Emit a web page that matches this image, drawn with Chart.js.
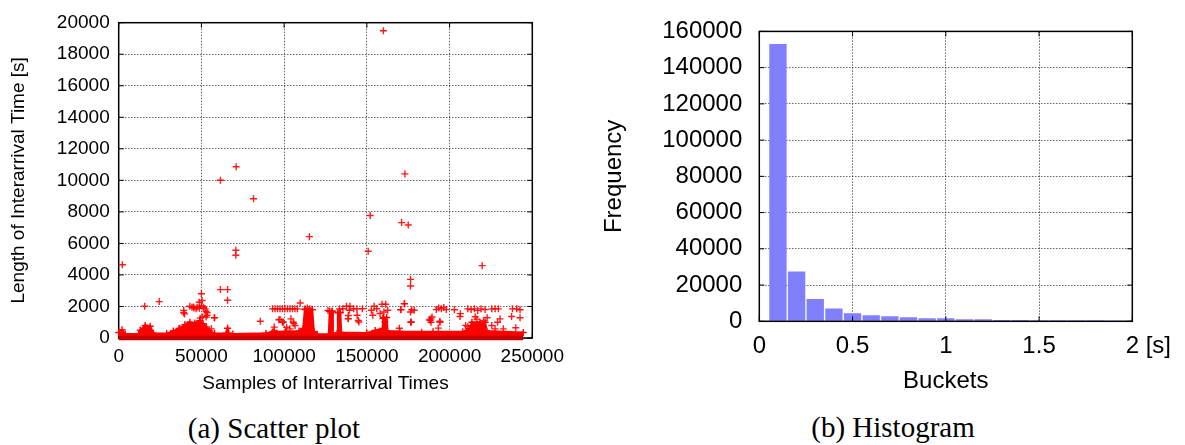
<!DOCTYPE html>
<html>
<head>
<meta charset="utf-8">
<script src="https://cdn.jsdelivr.net/npm/chart.js@4.4.0/dist/chart.umd.min.js"></script>
<style>
    body { margin: 0; background: #fff; width: 1185px; height: 445px; overflow: hidden; position: relative; }
    canvas { position: absolute; top: 0; }
    #scatter { left: 0; }
    #hist { left: 600px; }
    .caption { position: absolute; font-family: 'Liberation Serif', serif; font-size: 29px; line-height: 36px; text-align: center; width: 320px; color: #000; }
</style>
</head>
<body>
<canvas id="scatter" width="590" height="400"></canvas>
<canvas id="hist" width="585" height="400"></canvas>
<div class="caption" style="left:114px; top:410px;">(a) Scatter plot</div>
<div class="caption" style="left:733px; top:409px;">(b) Histogram</div>
<script>
// scatter: isolated samples above the dense band
const scatterX = [
    2200, 61500, 71000, 81500, 70800, 70800, 61500, 65800, 65800, 50000, 24500, 15700,
    115300, 160000, 152000, 150800, 173000, 171000, 175000, 176400, 176400, 219700, 172800, 109700,
    58000, 85600,
    39300, 39300, 39800, 44300, 45500, 46800, 47400, 48700, 48700, 50400, 50000, 51200,
    52300, 52800, 53400, 49300, 49300, 52800, 57800, 56000, 41900, 46300, 36300, 43000,
    45200, 50600, 53400,
    93000, 94500, 96000, 97500, 99000, 100500, 102000, 103500, 105000, 106500, 108000, 94000,
    94000, 97500, 99500, 101500, 103500, 105500, 106600, 104100, 96800, 98900, 105900, 112600,
    114000, 115500, 117000,
    126500, 129000, 132500, 133500, 135500, 137700, 139800, 142000, 144000, 147300, 138800, 138800,
    144800, 138700, 144100, 145200, 139400,
    152700, 154400, 156000, 159200, 161400, 160300, 162600, 159600, 160900, 153600, 158000, 170600,
    172600, 177100, 178600, 176500, 169600, 183100, 187700, 170400, 176900, 176400,
    188800, 188800, 192000, 193500, 195000, 196500, 198000, 194200, 193200, 202900, 206300, 211000,
    213000, 215000, 217000, 219000, 221500, 215500, 216500, 218300, 222700, 220500, 211000, 225500,
    227500, 225500, 227500, 229500, 230500, 229000, 232500, 238000, 240600, 242600, 237500, 242600,
    240000, 188300, 189400, 194100, 206500, 209700
];
const scatterY = [
    4650, 10010, 10860, 8830, 5570, 5250, 3070, 3070, 2390, 2810, 2310, 2010,
    6430, 19490, 7770, 5500, 10410, 7320, 7170, 3720, 3300, 4590, 2180, 2220,
    1290, 1060,
    1740, 1600, 1530, 1950, 1900, 1850, 1950, 1880, 2270, 2380, 2050, 1950,
    1850, 1700, 1600, 1260, 1000, 1330, 1280, 580, 840, 800, 580, 2010,
    1970, 1330, 1440,
    1850, 1850, 1850, 1850, 1850, 1850, 1850, 1850, 1850, 1850, 1850, 690,
    475, 1170, 1000, 685, 580, 1000, 790, 1215, 1160, 1015, 910, 1850,
    1900, 1850, 1800,
    1740, 1700, 1640, 1850, 1860, 2010, 2010, 1860, 1850, 1860, 1215, 1430,
    1110, 1230, 1440, 1015, 1760,
    1760, 2010, 1860, 2140, 2140, 1650, 1760, 1230, 1015, 1440, 1550, 1790,
    2170, 1790, 1760, 1000, 620, 370, 1150, 1800, 1015, 1650,
    1215, 1000, 1800, 1900, 1850, 1930, 1800, 1000, 628, 1790, 1360, 1850,
    1800, 1850, 1750, 1850, 1800, 1350, 1200, 1000, 1280, 1100, 720, 790,
    580, 1850, 1850, 1850, 1215, 1000, 580, 1850, 1850, 1790, 1360, 1280,
    650, 1120, 1330, 1060, 1545, 800
];
// upper edge of the dense band of short interarrival times
const bandX = [
    0, 2000, 4000, 12000, 13000, 16000, 19000, 21000, 29000, 33000, 37000, 40000,
    43000, 46000, 49000, 51000, 53000, 55000, 58000, 65000, 65800, 66500, 69000, 89000,
    93000, 101000, 109000, 111500, 112500, 117000, 118000, 120000, 127000, 127500, 129000, 129500,
    132000, 132500, 134000, 134500, 150000, 155000, 159500, 160000, 162000, 162500, 170000, 190000,
    208000, 212000, 213500, 221500, 222500, 244500
];
const bandY = [
    350, 520, 250, 250, 500, 800, 750, 300, 280, 450, 620, 850,
    1000, 950, 1100, 900, 700, 450, 280, 300, 620, 300, 250, 300,
    380, 420, 450, 600, 1800, 1800, 400, 230, 230, 1700, 1700, 300,
    300, 1600, 1600, 350, 320, 480, 600, 1300, 1300, 450, 420, 400,
    400, 600, 1000, 1000, 450, 350
];
const scatterXTicks = [0, 50000, 100000, 150000, 200000, 250000];
const scatterYTicks = [0, 2000, 4000, 6000, 8000, 10000, 12000, 14000, 16000, 18000, 20000];

// histogram
const bucketCenters = [0.1, 0.2, 0.3, 0.4, 0.5, 0.6, 0.7, 0.8, 0.9, 1.0, 1.1, 1.2, 1.3, 1.4, 1.5, 1.6, 1.7, 1.8, 1.9, 2.0];
const bucketCounts = [153000, 27500, 12300, 7000, 4400, 3300, 2800, 2300, 1700, 1700, 1200, 1200, 700, 650, 600, 600, 550, 550, 500, 500];
const histXTicks = [0, 0.5, 1, 1.5, 2];
const histYTicks = [0, 20000, 40000, 60000, 80000, 100000, 120000, 140000, 160000];

function framePlugin(onTop) {
    function draw(chart) {
        const ctx = chart.ctx;
        const a = chart.chartArea;
        ctx.save();
        ctx.strokeStyle = '#000';
        ctx.lineWidth = 1.5;
        ctx.strokeRect(a.left, a.top, a.right - a.left, a.bottom - a.top);
        ctx.lineWidth = 1;
        ctx.beginPath();
        chart.scales.x.ticks.forEach((t) => {
            let px = chart.scales.x.getPixelForValue(t.value);
            ctx.moveTo(px, a.bottom); ctx.lineTo(px, a.bottom - 5);
            ctx.moveTo(px, a.top); ctx.lineTo(px, a.top + 5);
        });
        chart.scales.y.ticks.forEach((t) => {
            let py = chart.scales.y.getPixelForValue(t.value);
            ctx.moveTo(a.left, py); ctx.lineTo(a.left + 5, py);
            ctx.moveTo(a.right, py); ctx.lineTo(a.right - 5, py);
        });
        ctx.stroke();
        ctx.restore();
    }
    return onTop ? {id: 'frame', afterDatasetsDraw: draw} : {id: 'frame', beforeDatasetsDraw: draw};
}

function axis(ticks, size, fit, fontSize, pad, title, titlePad) {
    return {
        type: 'linear',
        min: ticks[0],
        max: ticks[ticks.length - 1],
        offset: false,
        afterBuildTicks: (scale) => { scale.ticks = ticks.map((v) => ({value: v})); },
        afterFit: (scale) => { if (fit === 'w') scale.width = size; else scale.height = size; },
        grid: {color: 'rgba(0,0,0,0.6)', lineWidth: 1, drawTicks: false, offset: false},
        border: {display: false, dash: [1.5, 1.5]},
        ticks: {
            color: '#000',
            padding: pad,
            maxRotation: 0,
            autoSkip: false,
            font: {family: 'Liberation Sans', size: fontSize},
            callback: (v) => v.toString()
        },
        title: {
            display: true,
            text: title,
            color: '#000',
            font: {family: 'Liberation Sans', size: fontSize, lineHeight: 1.2},
            padding: titlePad
        }
    };
}

function renderScatter() {
    let points = scatterX.map((x, i) => ({x: x, y: scatterY[i]}));
    let band = bandX.map((x, i) => ({x: x, y: bandY[i]}));
    new Chart(document.getElementById('scatter'), {
        type: 'scatter',
        data: {
            datasets: [{
                    data: points,
                    pointStyle: 'cross',
                    pointRadius: 3.5,
                    borderWidth: 1.4,
                    borderColor: 'rgba(255,0,0,0.9)',
                    clip: false
                }, {
                    type: 'line',
                    data: [{x: bandX[0], y: 0}, {x: bandX[bandX.length - 1], y: 0}],
                    borderColor: '#c80000',
                    borderWidth: 4.5,
                    pointRadius: 0,
                    clip: false
                }, {
                    type: 'line',
                    data: band,
                    borderColor: '#ff0000',
                    borderWidth: 2,
                    backgroundColor: '#ff0000',
                    fill: 'origin',
                    pointStyle: 'cross',
                    pointRadius: 3.5,
                    pointBorderWidth: 1.4,
                    pointBorderColor: '#ff0000',
                    tension: 0,
                    clip: false
                }]
        },
        options: {
            responsive: false,
            animation: false,
            devicePixelRatio: 1,
            layout: {padding: {top: 22.7, right: 57.7, left: 0, bottom: 0}},
            plugins: {legend: {display: false}, tooltip: {enabled: false}},
            scales: {
                x: axis(scatterXTicks, 62, 'h', 19, 7, 'Samples of Interarrival Times', {top: 4, bottom: 5}),
                y: axis(scatterYTicks, 118.7, 'w', 19, 9, 'Length of Interarrival Time [s]', {top: 7, bottom: 4})
            }
        },
        plugins: [framePlugin(false)]
    });
}

function renderHistogram() {
    let bars = bucketCenters.map((c, i) => ({x: c, y: bucketCounts[i]}));
    const unitPlugin = {
        id: 'unit',
        afterDraw(chart) {
            let xs = chart.scales.x;
            let ctx = chart.ctx;
            ctx.save();
            ctx.font = '24px "Liberation Sans"';
            ctx.fillStyle = '#000';
            ctx.textAlign = 'left';
            ctx.textBaseline = 'middle';
            let px = xs.getPixelForValue(2) + ctx.measureText('2').width / 2 + ctx.measureText(' ').width;
            ctx.fillText('[s]', px, xs.top + 11 + 24 * 1.2 / 2);
            ctx.restore();
        }
    };
    let xAxis = axis(histXTicks, 78.7, 'h', 24, 11, 'Buckets', {top: 4, bottom: 4});
    new Chart(document.getElementById('hist'), {
        type: 'bar',
        data: {
            datasets: [{
                    data: bars,
                    backgroundColor: '#8080ff',
                    barPercentage: 0.93,
                    categoryPercentage: 1,
                    borderWidth: 0
                }]
        },
        options: {
            responsive: false,
            animation: false,
            devicePixelRatio: 1,
            layout: {padding: {top: 22, right: 52.7, left: 0, bottom: 0}},
            plugins: {legend: {display: false}, tooltip: {enabled: false}},
            scales: {
                x: xAxis,
                y: axis(histYTicks, 159.3, 'w', 24, 17, 'Frequency', {top: 0, bottom: 0})
            }
        },
        plugins: [framePlugin(true), unitPlugin]
    });
}

renderScatter();
renderHistogram();
</script>
</body>
</html>
